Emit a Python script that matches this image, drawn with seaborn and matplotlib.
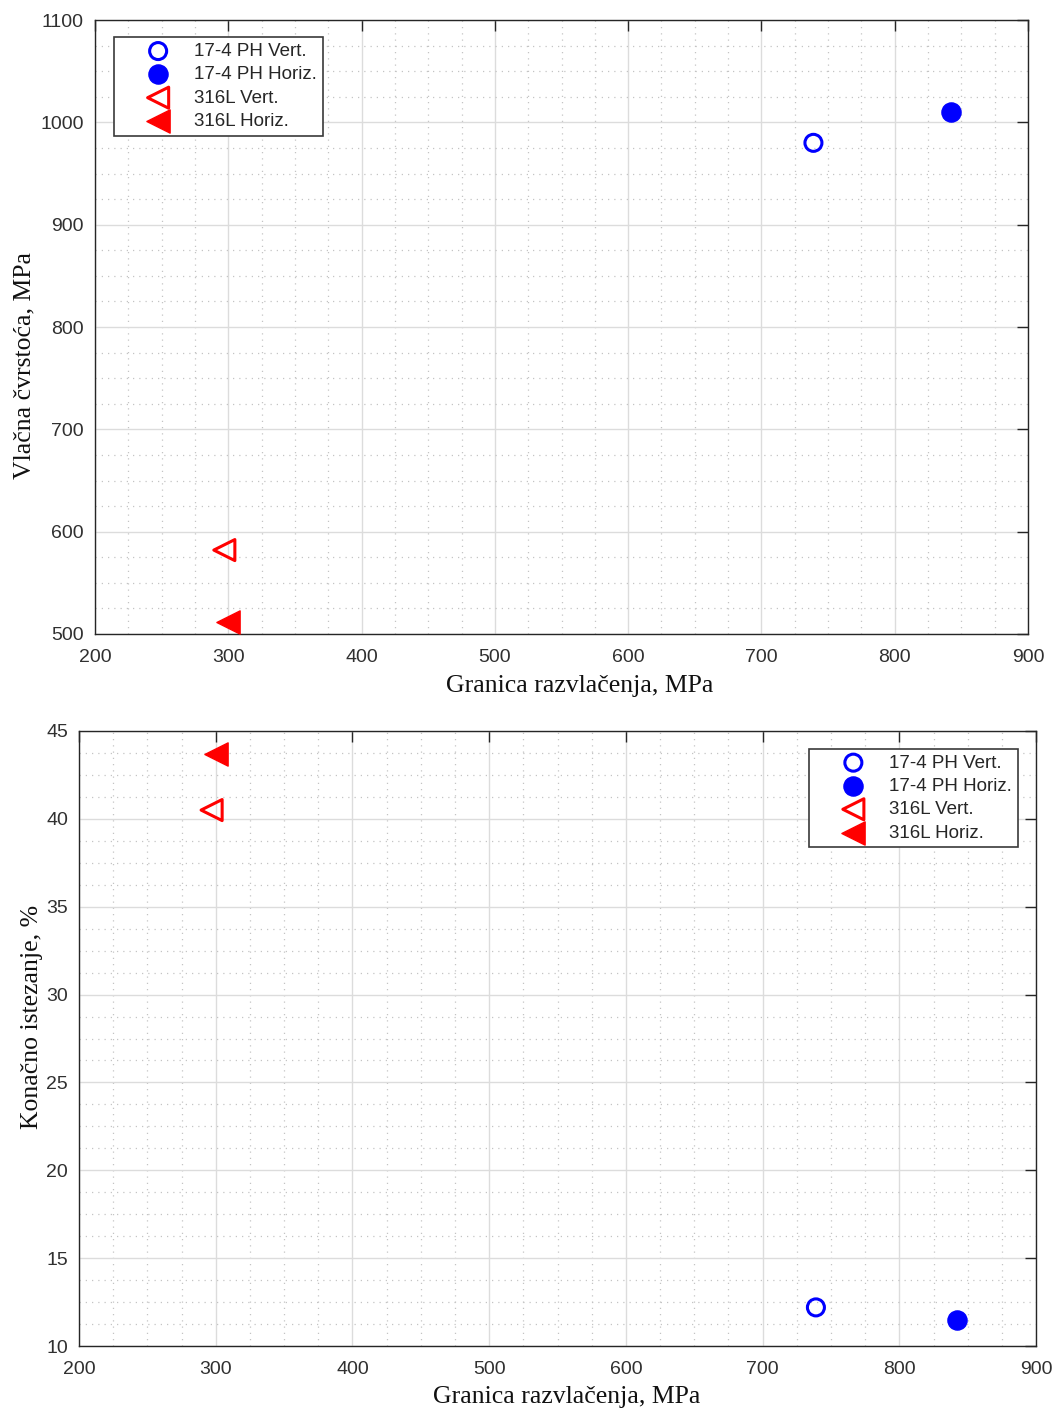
import numpy as np
import matplotlib
matplotlib.use("Agg")
import matplotlib.pyplot as plt
import seaborn as sns
from matplotlib.ticker import MultipleLocator, AutoMinorLocator

# Data
labels = ["17-4 PH Vert.", "17-4 PH Horiz.", "316L Vert.", "316L Horiz."]
yield_mpa = [739, 842, 297, 300]
tensile_mpa = [980, 1010, 582, 512]
elongation_pct = [12.2, 11.5, 40.5, 43.7]

colors = ["blue", "blue", "red", "red"]
markers = ["o", "o", "<", "<"]
hollow = [True, False, True, False]
sizes = [150, 190, 230, 280]

sns.set_style("white")
plt.rcParams["font.family"] = ["Liberation Sans", "DejaVu Sans"]

fig = plt.figure(figsize=(10.56, 14.12), dpi=100)
ax1 = fig.add_axes([0.090, 0.551, 0.8835, 0.4348])
ax2 = fig.add_axes([0.0748, 0.0467, 0.9063, 0.4356])


def draw(ax, yvals):
    for i in range(len(labels)):
        sns.scatterplot(x=[yield_mpa[i]], y=[yvals[i]], marker=markers[i], s=sizes[i],
                        color=colors[i], label=labels[i], ax=ax, zorder=5)
        coll = ax.collections[-1]
        if hollow[i]:
            coll.set_facecolor("none")
            coll.set_edgecolor(colors[i])
            coll.set_linewidth(2.2)
        else:
            coll.set_edgecolor(colors[i])
            coll.set_linewidth(1)


draw(ax1, tensile_mpa)
draw(ax2, elongation_pct)

ax1.set_xlim(200, 900)
ax1.set_ylim(500, 1100)
ax1.yaxis.set_major_locator(MultipleLocator(100))
ax2.set_xlim(200, 900)
ax2.set_ylim(10, 45)
ax2.yaxis.set_major_locator(MultipleLocator(5))

for ax in (ax1, ax2):
    ax.xaxis.set_major_locator(MultipleLocator(100))
    ax.xaxis.set_minor_locator(AutoMinorLocator(4))
    ax.yaxis.set_minor_locator(AutoMinorLocator(4))
    ax.grid(True, which="major", color="#dcdcdc", linewidth=1, linestyle="-")
    ax.grid(True, which="minor", color="#c4c4c4", linewidth=0.9, linestyle=(0, (1, 4)))
    ax.set_axisbelow(True)
    ax.tick_params(which="major", direction="in", length=8, width=1, color="#262626",
                   top=True, right=True, labelsize=14, labelcolor="#303030")
    ax.tick_params(axis="x", pad=11)
    ax.tick_params(axis="y", pad=8)
    ax.tick_params(which="minor", length=0)
    for sp in ax.spines.values():
        sp.set_color("#262626")
        sp.set_linewidth(1)
    ax.set_xlabel("Granica razvlačenja, MPa", family="Liberation Serif", fontsize=18.5,
                  color="#111111")

ax1.set_ylabel("Vlačna čvrstoća, MPa", family="Liberation Serif", fontsize=18.5, color="#111111")
ax2.set_ylabel("Konačno istezanje, %", family="Liberation Serif", fontsize=18.5, color="#111111")

ax1.xaxis.set_label_coords(0.519, -0.085)
ax2.xaxis.set_label_coords(0.51, -0.083)
ax1.yaxis.set_label_coords(-0.076, 0.438)
ax2.yaxis.set_label_coords(-0.049, 0.535)
for ax in (ax1, ax2):
    ax.xaxis.label.set_va("center")
    ax.yaxis.label.set_va("center")

leg_kw = dict(frameon=True, fancybox=False, edgecolor="#3a3a3a", framealpha=1, fontsize=13.5,
              handletextpad=-0.13, borderpad=0.3, labelspacing=0.33, handlelength=4.1,
              borderaxespad=0)
l1 = ax1.legend(loc="upper left", bbox_to_anchor=(0.0204, 0.972), **leg_kw)
l2 = ax2.legend(loc="upper right", bbox_to_anchor=(0.981, 0.971), **leg_kw)
for lg in (l1, l2):
    lg.get_frame().set_linewidth(1.2)
    for t in lg.get_texts():
        t.set_color("#262626")

fig.savefig("out.png", dpi=100, facecolor="white")
